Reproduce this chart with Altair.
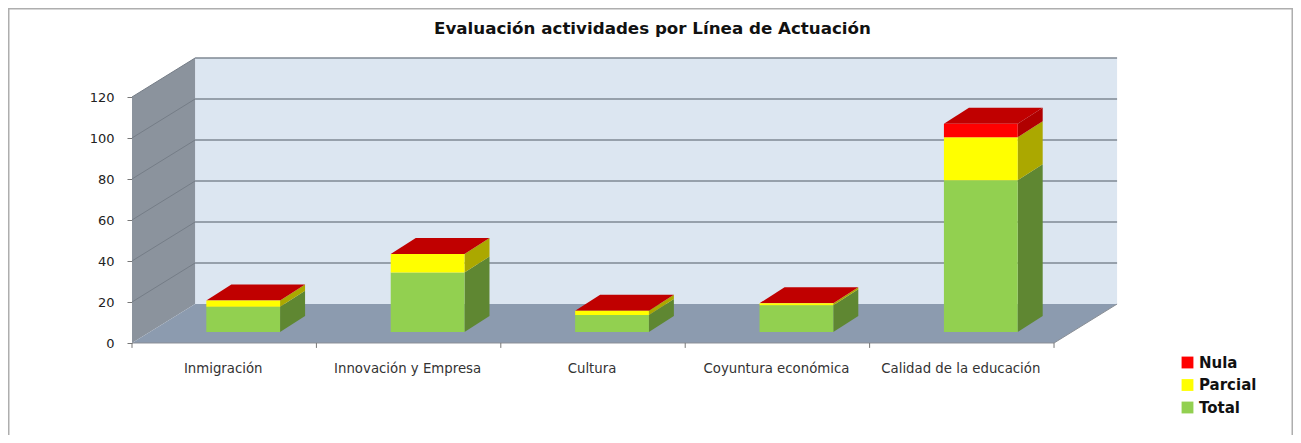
import json
import altair as alt
import pandas as pd

categories = ["Inmigración", "Innovación y Empresa", "Cultura", "Coyuntura económica", "Calidad de la educación"]
total = [12.3, 29, 8.3, 13, 74]
parcial = [3, 9, 2, 1, 21]
nula = [0, 0, 0, 0, 6.5]
series = ["Nula", "Parcial", "Total"]
front_cols = ["#FF0000", "#FFFF00", "#92D050"]
side_cols = {"Nula": "#B00000", "Parcial": "#ABA800", "Total": "#5F8732"}
top_col = "#C00000"
y_ticks = [0, 20, 40, 60, 80, 100, 120]

# 3-D projection, in data units
wall_dx, wall_dy = 0.342, 19.0      # depth of the chart box
bar_dx, bar_dy = 0.1356, 7.8        # depth of a bar
bar_x0, bar_w = 0.403, 0.40         # offset of the bar front inside its category
bar_base = 5.4                      # height of the bar foot on the projected floor
n = len(categories)

x_dom = [-0.6725, 6.296]
y_dom = [-44.88, 163.41]
xs = alt.Scale(domain=x_dom, nice=False, zero=False)
ys = alt.Scale(domain=y_dom, nice=False, zero=False)

label_expr = "%s[floor(datum.value)]" % json.dumps(categories, ensure_ascii=False)
x_axis = alt.Axis(values=[i + 0.5 for i in range(n)], labelExpr=label_expr, ticks=False, domain=False, grid=False,
                  offset=-92, labelPadding=18, labelOffset=-1.5, labelFontSize=13.3, labelColor="#333333",
                  labelFont="DejaVu Sans", labelOverlap=False, labelFlush=False, labelLimit=300)
y_axis = alt.Axis(values=y_ticks, ticks=True, tickSize=5, tickColor="#777777", domain=False, grid=False,
                  offset=-124, labelPadding=13, labelOffset=1, labelFontSize=13, labelColor="#222222",
                  labelFont="DejaVu Sans")


def X(f):
    return alt.X(f, type="quantitative", scale=xs, axis=x_axis, title=None)


def Y(f):
    return alt.Y(f, type="quantitative", scale=ys, axis=y_axis, title=None, stack=None)


X2 = lambda f: alt.X2(f)
Y2 = lambda f: alt.Y2(f)

back = alt.Chart(pd.DataFrame([{"a": wall_dx, "b": n + wall_dx, "c": wall_dy, "d": 120 + wall_dy}])).mark_rect(color="#DCE6F1").encode(
    x=X("a"), x2=X2("b"), y=Y("c"), y2=Y2("d"),
)

# chart frame: left, top and right only (the bottom runs off the picture)
frame = alt.Chart(pd.DataFrame([
    {"a": x_dom[0], "b": x_dom[0], "c": y_dom[0], "d": y_dom[1]},
    {"a": x_dom[1], "b": x_dom[1], "c": y_dom[0], "d": y_dom[1]},
    {"a": x_dom[0], "b": x_dom[1], "c": y_dom[1], "d": y_dom[1]},
])).mark_rule(color="#AEAEAE", strokeWidth=3).encode(x=X("a"), x2=X2("b"), y=Y("c"), y2=Y2("d"))

# side wall
side_wall = alt.Chart(pd.DataFrame([
    {"x": 0, "lo": 0, "hi": 120},
    {"x": wall_dx, "lo": wall_dy, "hi": 120 + wall_dy},
])).mark_area(color="#8B939D").encode(x=X("x"), y=Y("lo"), y2=Y2("hi"))

# floor
floor = alt.Chart(pd.DataFrame([
    {"y": 0, "a": 0, "b": n},
    {"y": wall_dy, "a": wall_dx, "b": n + wall_dx},
])).mark_area(color="#8C9BAF", orient="horizontal").encode(y=Y("y"), x=X("a"), x2=X2("b"))

# gridlines: back wall and their continuation on the side wall
grid_back = alt.Chart(pd.DataFrame([{"a": wall_dx, "b": n + wall_dx, "y": v + wall_dy} for v in y_ticks[1:]])).mark_rule(
    color="#7F8893", strokeWidth=1.5).encode(x=X("a"), x2=X2("b"), y=Y("y"))
grid_side = alt.Chart(pd.DataFrame(
    [r for v in y_ticks[1:] for r in ({"v": v, "x": 0, "y": v}, {"v": v, "x": wall_dx, "y": v + wall_dy})]
)).mark_line(color="#757D87", strokeWidth=1).encode(x=X("x"), y=Y("y"), detail="v:N")

# floor edges and x ticks
edges = alt.Chart(pd.DataFrame([
    {"e": "front", "x": 0, "y": 0}, {"e": "front", "x": n, "y": 0},
    {"e": "right", "x": n, "y": 0}, {"e": "right", "x": n + wall_dx, "y": wall_dy},
])).mark_line(color="#8A8F96", strokeWidth=1).encode(x=X("x"), y=Y("y"), detail="e:N")
xticks = alt.Chart(pd.DataFrame({"x": list(range(n + 1)), "a": 0, "b": -2.4})).mark_rule(
    color="#777777", strokeWidth=1).encode(x=X("x"), y=Y("a"), y2=Y2("b"))

# bars
fronts, sides, tops = [], [], []
for i in range(n):
    left = i + bar_x0
    right = left + bar_w
    base = bar_base
    for s, v in (("Total", total[i]), ("Parcial", parcial[i]), ("Nula", nula[i])):
        if v > 0:
            fronts.append({"Serie": s, "a": left, "b": right, "lo": base, "hi": base + v})
            face = f"{i}-{s}"
            sides.append({"face": face, "col": side_cols[s], "x": right, "lo": base, "hi": base + v})
            sides.append({"face": face, "col": side_cols[s], "x": right + bar_dx, "lo": base + bar_dy, "hi": base + v + bar_dy})
        base += v
    tops.append({"face": i, "y": base, "a": left, "b": right})
    tops.append({"face": i, "y": base + bar_dy, "a": left + bar_dx, "b": right + bar_dx})

front_layer = alt.Chart(pd.DataFrame(fronts)).mark_rect().encode(
    x=X("a"), x2=X2("b"), y=Y("lo"), y2=Y2("hi"),
    color=alt.Color("Serie:N", scale=alt.Scale(domain=series, range=front_cols),
                    legend=alt.Legend(title=None, orient="none", legendX=1172, legendY=347, symbolType="square",
                                      symbolSize=140, symbolStrokeWidth=0, labelFont="DejaVu Sans", labelFontSize=15,
                                      labelFontWeight="bold", labelColor="#111111", rowPadding=6.5, labelOffset=4)),
)
side_layer = alt.Chart(pd.DataFrame(sides)).mark_area().encode(
    x=X("x"), y=Y("lo"), y2=Y2("hi"), fill=alt.Fill("col:N", scale=None), detail="face:N")
top_layer = alt.Chart(pd.DataFrame(tops)).mark_area(color=top_col, orient="horizontal").encode(
    y=Y("y"), x=X("a"), x2=X2("b"), detail="face:N")

chart = alt.layer(
    back, frame, side_wall, floor, grid_back, grid_side, edges, xticks, side_layer, top_layer, front_layer
).properties(
    width=1285, height=427, padding=0,
    autosize=alt.AutoSizeParams(type="none"),
    title=alt.TitleParams("Evaluación actividades por Línea de Actuación", anchor="middle", offset=-31, font="DejaVu Sans",
                          fontSize=16.7, fontWeight="bold", color="#111111", dx=2),
).configure_view(stroke=None, fill="white").configure(background="white")

chart.save("out.html", embed_options={"renderer": "svg", "actions": False})
